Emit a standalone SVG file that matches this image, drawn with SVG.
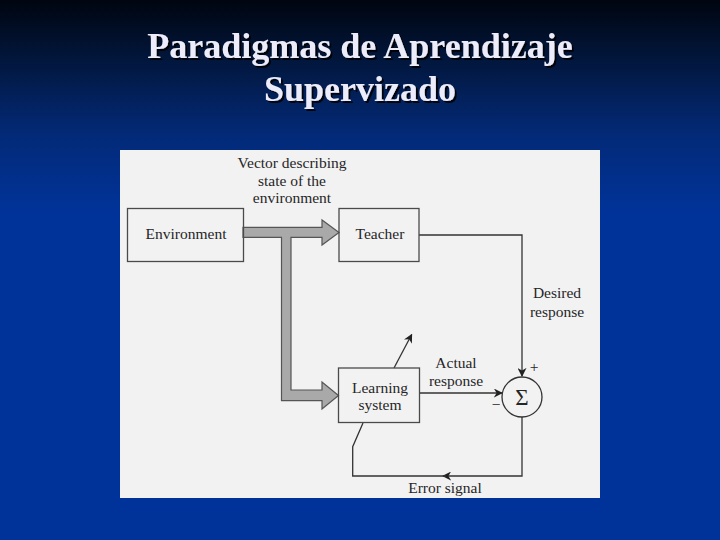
<svg xmlns="http://www.w3.org/2000/svg" width="720" height="540" viewBox="0 0 720 540">
<defs>
<linearGradient id="bg" x1="0" y1="0" x2="0" y2="1">
<stop offset="0" stop-color="#000510"/>
<stop offset="0.1" stop-color="#021538"/>
<stop offset="0.25" stop-color="#032a78"/>
<stop offset="0.4" stop-color="#00339a"/>
<stop offset="1" stop-color="#00339a"/>
</linearGradient>
<filter id="shadow" x="-5%" y="-20%" width="110%" height="150%">
<feDropShadow dx="2" dy="2" stdDeviation="0.4" flood-color="#000000" flood-opacity="0.85"/>
</filter>
<marker id="ah" viewBox="0 0 10 10" refX="9" refY="5" markerWidth="9" markerHeight="9" markerUnits="userSpaceOnUse" orient="auto">
<path d="M0,0 L10,5 L0,10 L3,5 Z" fill="#222"/>
</marker>
<style>
.t{font-family:"Liberation Serif","Times New Roman",serif;font-size:15.5px;fill:#262626;text-anchor:middle}
.title{font-family:"Liberation Serif","Times New Roman",serif;font-size:36px;font-weight:bold;fill:#ececfa;text-anchor:middle}
.box{fill:none;stroke:#4a4a4a;stroke-width:1.3}
.ln{fill:none;stroke:#333;stroke-width:1.3}
</style>
</defs>
<rect width="720" height="540" fill="url(#bg)"/>
<g id="title" filter="url(#shadow)">
<text class="title" x="360" y="58">Paradigmas de Aprendizaje</text>
<text class="title" x="360" y="101">Supervizado</text>
</g>
<rect x="120" y="150" width="480" height="348" fill="#f2f2f3"/>
<g id="connectors">
<path d="M243,227.3 L322,227.3 L322,220 L339,232.5 L322,245 L322,237.3 L291,237.3 L291,390 L322,390 L322,382 L338.5,395.5 L322,409 L322,400.7 L281.5,400.7 L281.5,237.3 L243,237.3 Z" fill="#a9a9a9" stroke="#555" stroke-width="1.2"/>
<path class="ln" d="M419,235 L522,235 L522,376" marker-end="url(#ah)"/>
<path class="ln" d="M419,393 L502,393" marker-end="url(#ah)"/>
<path class="ln" d="M394,368 L411.7,334.5" marker-end="url(#ah)"/>
<path class="ln" d="M522,417 L522,476 L443,476" marker-end="url(#ah)"/>
<path class="ln" d="M446,476 L352.7,476 L352.7,446.7 L363,423"/>
</g>
<g id="environment">
<rect class="box" x="127.5" y="208.5" width="116" height="53"/>
<text class="t" x="186" y="239">Environment</text>
</g>
<g id="teacher">
<rect class="box" x="339" y="208.5" width="80" height="53"/>
<text class="t" x="380" y="238.5">Teacher</text>
</g>
<g id="learning">
<rect class="box" x="338.5" y="368" width="81" height="54.5"/>
<text class="t" x="380" y="392.5">Learning</text>
<text class="t" x="380" y="410">system</text>
</g>
<g id="sum">
<circle cx="522" cy="397" r="20" fill="none" stroke="#333" stroke-width="1.3"/>
<text class="t" x="522" y="405" style="font-size:23px">Σ</text>
<text class="t" x="534" y="372">+</text>
<text class="t" x="496" y="410">−</text>
</g>
<g id="labels">
<text class="t" x="292" y="168">Vector describing</text>
<text class="t" x="292" y="185.5">state of the</text>
<text class="t" x="292" y="202.5">environment</text>
<text class="t" x="557" y="298">Desired</text>
<text class="t" x="557" y="316.5">response</text>
<text class="t" x="456" y="368">Actual</text>
<text class="t" x="456" y="386">response</text>
<text class="t" x="445" y="493">Error signal</text>
</g>
</svg>
